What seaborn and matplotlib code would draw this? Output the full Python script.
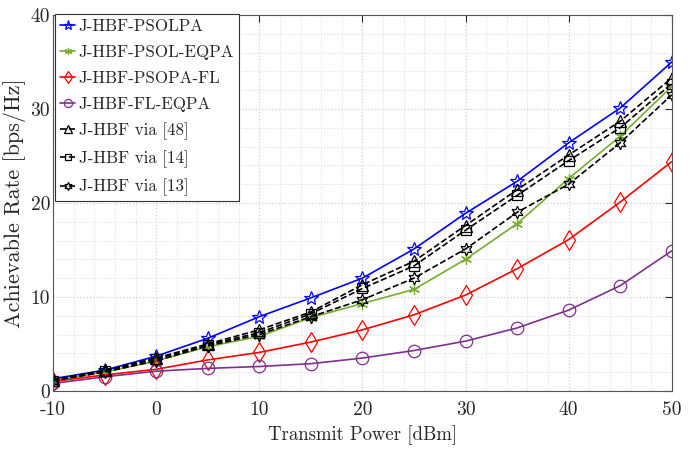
import numpy as np
import pandas as pd
import matplotlib
matplotlib.use("Agg")
import matplotlib.pyplot as plt
import seaborn as sns
from matplotlib.ticker import MultipleLocator

# ---- data ----
power_dbm = [-10, -5, 0, 5, 10, 15, 20, 25, 30, 35, 40, 45, 50]
psolpa = [1.3, 2.2, 3.7, 5.6, 7.9, 9.9, 12.0, 15.1, 18.9, 22.3, 26.4, 30.1, 35.0]
psol_eqpa = [1.1, 2.0, 3.2, 4.7, 5.8, 7.8, 9.3, 10.8, 14.0, 17.8, 22.6, 27.1, 32.4]
psopa_fl = [1.0, 1.7, 2.3, 3.3, 4.1, 5.2, 6.5, 8.1, 10.2, 13.0, 16.1, 20.1, 24.4]
fl_eqpa = [0.8, 1.5, 2.1, 2.4, 2.6, 2.9, 3.5, 4.3, 5.3, 6.7, 8.6, 11.2, 14.9]
via48 = [1.2, 2.2, 3.5, 5.0, 6.5, 8.4, 11.3, 13.8, 17.6, 21.4, 25.1, 28.7, 33.3]
via14 = [1.1, 2.1, 3.4, 4.9, 6.2, 8.2, 10.9, 13.3, 17.1, 20.8, 24.5, 28.0, 32.7]
via13 = [1.1, 2.0, 3.2, 4.8, 6.0, 7.9, 9.7, 12.0, 15.1, 19.0, 22.0, 26.4, 31.5]

labels = ["J-HBF-PSOLPA", "J-HBF-PSOL-EQPA", "J-HBF-PSOPA-FL", "J-HBF-FL-EQPA",
          "J-HBF via [48]", "J-HBF via [14]", "J-HBF via [13]"]
series = [psolpa, psol_eqpa, psopa_fl, fl_eqpa, via48, via14, via13]
colors = ["#0000ff", "#77ac30", "#ff0000", "#7e2f8e", "black", "black", "black"]
markers = ["*", (6, 2, 0), "d", "o", "^", "s", (6, 1, 0)]
msizes = [10, 8, 10, 9, 8, 7, 9]
lstyles = ["-", "-", "-", "-", "--", "--", "--"]
x_ticks = [-10, 0, 10, 20, 30, 40, 50]
x_ticklabels = ["-10", "0", "10", "20", "30", "40", "50"]
y_ticks = [0, 10, 20, 30, 40]

sns.set_style("white")
plt.rcParams["font.family"] = ["cmr10", "DejaVu Serif"]
plt.rcParams["mathtext.fontset"] = "cm"
plt.rcParams["axes.unicode_minus"] = False

fig = plt.figure(figsize=(6.94, 4.53), dpi=100)
ax = fig.add_axes([0.0764, 0.137, 0.8916, 0.830])

for lab, ys, c, m, ms, ls in zip(labels, series, colors, markers, msizes, lstyles):
    sns.lineplot(x=power_dbm, y=ys, ax=ax, color=c, marker=m, markersize=ms,
                 markerfacecolor="none", markeredgecolor=c, markeredgewidth=0.9,
                 linestyle=ls, linewidth=1.2, label=lab)

ax.set_xlim(-10, 50)
ax.set_ylim(0, 40)
ax.set_xticks(x_ticks)
ax.set_xticklabels(x_ticklabels)
ax.set_yticks(y_ticks)
ax.xaxis.set_minor_locator(MultipleLocator(2))
ax.yaxis.set_minor_locator(MultipleLocator(2))
ax.grid(True, which="major", color="#cfcfcf", linestyle=":", linewidth=0.9)
ax.grid(True, which="minor", color="#dcdcdc", linestyle=":", linewidth=0.7)
ax.set_axisbelow(True)
ax.tick_params(which="major", direction="in", length=5, width=0.8, top=True, right=True,
               labelsize=14, colors="#262626")
ax.tick_params(axis="x", pad=7)
ax.tick_params(axis="y", pad=2)
ax.tick_params(which="minor", length=0)
for s in ax.spines.values():
    s.set_color("#555555")
    s.set_linewidth(0.8)

ax.set_xlabel("Transmit Power [dBm]", fontsize=13.5, color="#262626", labelpad=5)
ax.set_ylabel("Achievable Rate [bps/Hz]", fontsize=16, color="#262626", labelpad=3)

leg = ax.legend(loc="upper left", bbox_to_anchor=(0.003, 1.003), fontsize=12.2,
                frameon=True, fancybox=False, framealpha=1, edgecolor="#333333",
                handlelength=0.9, handletextpad=0.2, borderpad=0.3,
                labelspacing=0.62, borderaxespad=0, markerscale=0.65)
leg.get_frame().set_linewidth(0.8)

fig.savefig("out.png", dpi=100)
